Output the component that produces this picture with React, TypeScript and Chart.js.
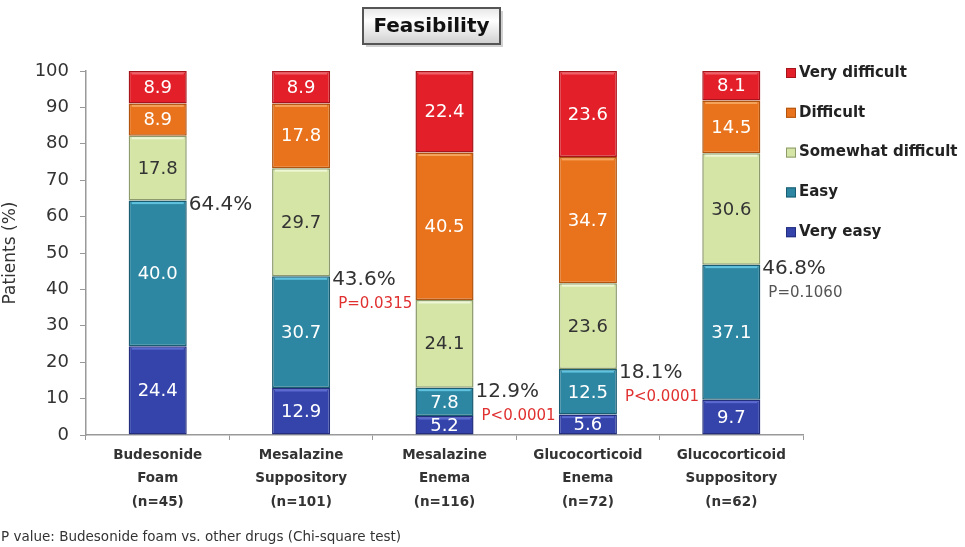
import React, { useEffect, useRef } from "react";
import { Chart, registerables } from "chart.js";

Chart.register(...registerables);

const categories: string[][] = [
  ["Budesonide", "Foam", "(n=45)"],
  ["Mesalazine", "Suppository", "(n=101)"],
  ["Mesalazine", "Enema", "(n=116)"],
  ["Glucocorticoid", "Enema", "(n=72)"],
  ["Glucocorticoid", "Suppository", "(n=62)"],
];

const veryEasy = [24.4, 12.9, 5.2, 5.6, 9.7];
const easy = [40.0, 30.7, 7.8, 12.5, 37.1];
const somewhatDifficult = [17.8, 29.7, 24.1, 23.6, 30.6];
const difficult = [8.9, 17.8, 40.5, 34.7, 14.5];
const veryDifficult = [8.9, 8.9, 22.4, 23.6, 8.1];

const easyTotals = ["64.4%", "43.6%", "12.9%", "18.1%", "46.8%"];
const easyTotalValues = [64.4, 43.6, 12.9, 18.1, 46.8];
const pValues = ["", "P=0.0315", "P<0.0001", "P<0.0001", "P=0.1060"];
const pColors = ["#e03030", "#e03030", "#e03030", "#e03030", "#555555"];

const yTicks = [0, 10, 20, 30, 40, 50, 60, 70, 80, 90, 100];

const titleText = "Feasibility";
const footnote = "P value: Budesonide foam vs. other drugs (Chi-square test)";

const FONT = "'DejaVu Sans', Verdana, sans-serif";

const series = [
  { label: "Very easy", data: veryEasy, bg: "#3444aa", border: "#232f7e", hi: "#5a6ad0", text: "#ffffff" },
  { label: "Easy", data: easy, bg: "#2e87a2", border: "#1b5d70", hi: "#5fc3df", text: "#ffffff" },
  { label: "Somewhat difficult", data: somewhatDifficult, bg: "#d4e5a6", border: "#8c9a6c", hi: "#eef6d6", text: "#333333" },
  { label: "Difficult", data: difficult, bg: "#e8731c", border: "#b0540f", hi: "#f5a35c", text: "#ffffff" },
  { label: "Very difficult", data: veryDifficult, bg: "#e3202a", border: "#a8141b", hi: "#f06068", text: "#ffffff" },
];

const overlayPlugin = {
  id: "overlay",
  afterDatasetsDraw(chart: any) {
    const ctx = chart.ctx;
    const yScale = chart.scales.y;
    ctx.save();
    chart.data.datasets.forEach((ds: any, di: number) => {
      const meta = chart.getDatasetMeta(di);
      const s = series[di];
      meta.data.forEach((el: any, i: number) => {
        const top = Math.min(el.y, el.base);
        const bottom = Math.max(el.y, el.base);
        const left = el.x - el.width / 2;
        ctx.fillStyle = s.hi;
        ctx.fillRect(left + 3, top + 1.5, el.width - 6, 2);
        ctx.fillStyle = s.text;
        ctx.font = `18px ${FONT}`;
        ctx.textAlign = "center";
        ctx.textBaseline = "middle";
        ctx.fillText(ds.data[i].toFixed(1), el.x, (top + bottom) / 2 + 1);
      });
    });
    const meta0 = chart.getDatasetMeta(0);
    meta0.data.forEach((el: any, i: number) => {
      const xr = el.x + el.width / 2;
      const yv = yScale.getPixelForValue(easyTotalValues[i]);
      ctx.textAlign = "left";
      ctx.textBaseline = "middle";
      ctx.fillStyle = "#333333";
      ctx.font = `20px ${FONT}`;
      ctx.fillText(easyTotals[i], xr + 2, yv + 4);
      if (pValues[i]) {
        ctx.fillStyle = pColors[i];
        ctx.font = `15px ${FONT}`;
        ctx.fillText(pValues[i], xr + 8, yv + 28);
      }
    });
    ctx.restore();
  },
  afterDraw(chart: any) {
    const ctx = chart.ctx;
    ctx.save();
    const bx = 363, by = 8, bw = 137, bh = 36;
    ctx.fillStyle = "rgba(0,0,0,0.18)";
    ctx.fillRect(bx + 3, by + 3, bw, bh);
    const g = ctx.createLinearGradient(0, by, 0, by + bh);
    g.addColorStop(0, "#e6e6e6");
    g.addColorStop(0.35, "#ffffff");
    g.addColorStop(1, "#cfcfcf");
    ctx.fillStyle = g;
    ctx.fillRect(bx, by, bw, bh);
    ctx.strokeStyle = "#555555";
    ctx.lineWidth = 2;
    ctx.strokeRect(bx, by, bw, bh);
    ctx.fillStyle = "#111111";
    ctx.font = `bold 20px ${FONT}`;
    ctx.textAlign = "center";
    ctx.textBaseline = "middle";
    ctx.fillText(titleText, bx + bw / 2, by + bh / 2 + 1);
    const legendItems = [...series].reverse();
    legendItems.forEach((s, k) => {
      const y = 73 + k * 39.8;
      ctx.fillStyle = s.bg;
      ctx.fillRect(786, y - 5, 10, 10);
      ctx.strokeStyle = s.border;
      ctx.lineWidth = 1;
      ctx.strokeRect(786.5, y - 4.5, 9, 9);
      ctx.fillStyle = "#222222";
      ctx.font = `bold 15px ${FONT}`;
      ctx.textAlign = "left";
      ctx.textBaseline = "middle";
      ctx.fillText(s.label, 799, y);
    });
    ctx.fillStyle = "#333333";
    ctx.font = `13.5px ${FONT}`;
    ctx.textAlign = "left";
    ctx.textBaseline = "middle";
    ctx.fillText(footnote, 1, 537);
    ctx.restore();
  },
};

export default function App() {
  const ref = useRef<HTMLCanvasElement | null>(null);
  useEffect(() => {
    document.body.style.margin = "0";
    const canvas = ref.current;
    if (!canvas) return;
    const chart = new Chart(canvas, {
      type: "bar",
      data: {
        labels: categories,
        datasets: series.map((s) => ({
          label: s.label,
          data: s.data,
          backgroundColor: s.bg,
          borderColor: s.border,
          borderWidth: 1.5,
          borderSkipped: false,
          barPercentage: 0.405,
          categoryPercentage: 1,
        })),
      },
      options: {
        responsive: false,
        animation: false,
        devicePixelRatio: 1,
        layout: { padding: { top: 71, right: 162, left: 0, bottom: 0 } },
        plugins: {
          legend: { display: false },
          title: { display: false },
          tooltip: { enabled: false },
        },
        scales: {
          x: {
            stacked: true,
            grid: { display: true, drawOnChartArea: false, drawTicks: true, tickLength: 5, color: "#999999", offset: true },
            border: { display: true, color: "#999999", width: 1.5 },
            ticks: {
              color: "#333333",
              font: { family: FONT, size: 13.5, weight: "bold", lineHeight: 1.72 },
              padding: 4,
              maxRotation: 0,
              autoSkip: false,
            },
            afterFit(scale: any) {
              scale.height = 112;
            },
          },
          y: {
            stacked: true,
            min: 0,
            max: 100,
            afterBuildTicks(scale: any) {
              scale.ticks = yTicks.map((v) => ({ value: v }));
            },
            grid: { display: true, drawOnChartArea: false, drawTicks: true, tickLength: 6, color: "#999999" },
            border: { display: true, color: "#999999", width: 1.5 },
            ticks: {
              color: "#333333",
              font: { family: FONT, size: 18 },
              padding: 11,
            },
            title: {
              display: true,
              text: "Patients (%)",
              color: "#333333",
              font: { family: FONT, size: 17 },
              padding: { top: 0, bottom: 0 },
            },
            afterFit(scale: any) {
              scale.width = 86;
            },
          },
        },
      },
      plugins: [overlayPlugin],
    } as any);
    return () => chart.destroy();
  }, []);
  return (
    <div style={{ width: 965, height: 547, background: "#ffffff" }}>
      <canvas ref={ref} width={965} height={547} style={{ display: "block" }} />
    </div>
  );
}
